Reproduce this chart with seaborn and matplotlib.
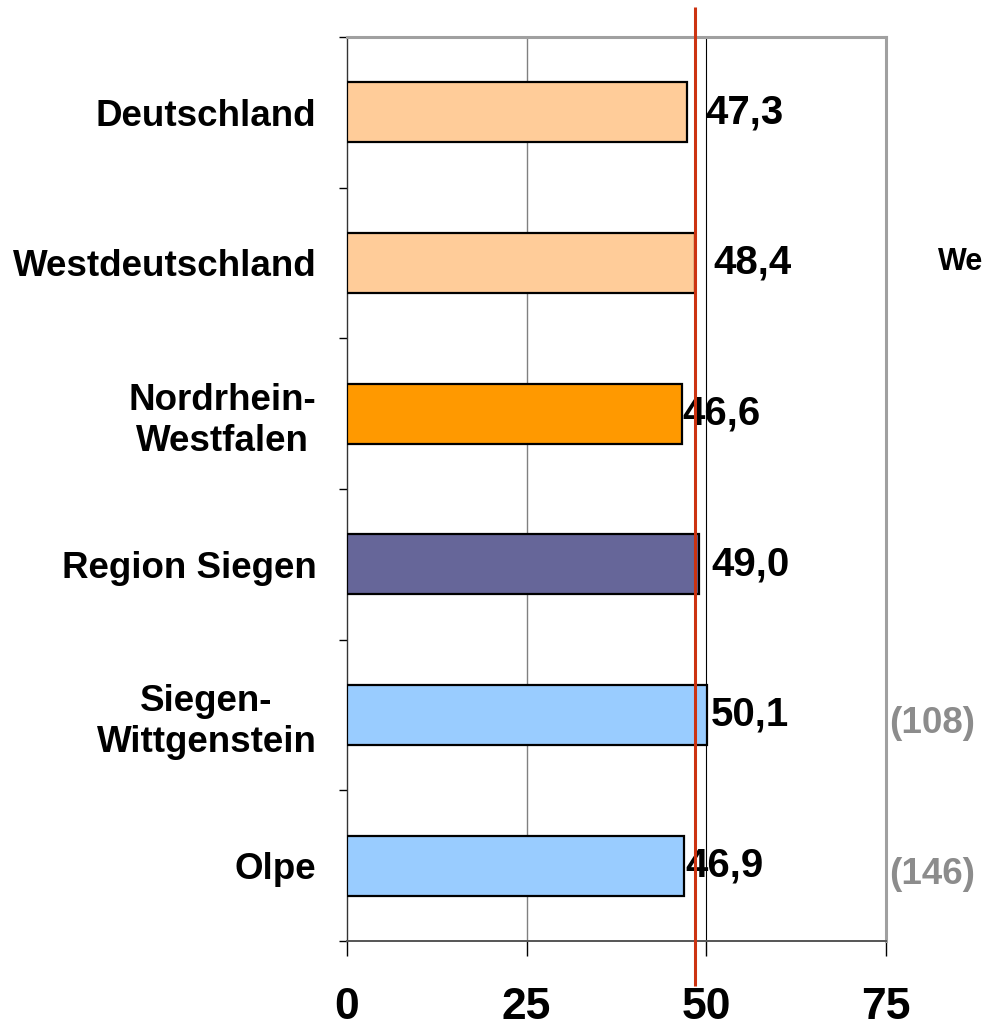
import matplotlib
matplotlib.use("Agg")
import matplotlib.pyplot as plt
import matplotlib.transforms as mtransforms
from matplotlib import font_manager
import seaborn as sns
import pandas as pd

# ---- data ----
categories = ["Deutschland", "Westdeutschland", "Nordrhein-\nWestfalen",
              "Region Siegen", "Siegen-\nWittgenstein", "Olpe"]
values = [47.3, 48.4, 46.6, 49.0, 50.1, 46.9]
value_labels = ["47,3", "48,4", "46,6", "49,0", "50,1", "46,9"]
bar_colors = ["#FFCC99", "#FFCC99", "#FF9900", "#666699", "#99CCFF", "#99CCFF"]
x_ticks = [0, 25, 50, 75]
reference_value = 48.4          # red line (Westdeutschland)
side_notes = ["(108)", "(146)"]  # gray sample sizes
side_note_rows = [4, 5]

# ---- layout/style ----
label_offsets_pt = [13.5, 13, 0.7, 8.5, 3, 0.7]

sns.set_theme(style="white")
names = {f.name for f in font_manager.fontManager.ttflist}
regular = "Liberation Sans" if "Liberation Sans" in names else "DejaVu Sans"
plt.rcParams["font.family"] = [regular, "DejaVu Sans"]
plt.rcParams["text.color"] = "black"
plt.rcParams["xtick.color"] = "black"
plt.rcParams["ytick.color"] = "black"

df = pd.DataFrame({"cat": categories, "val": values})

fig = plt.figure(figsize=(9.88, 10.27), dpi=100)
ax = fig.add_axes([347 / 988, 1 - 941 / 1027, (886 - 347) / 988, (941 - 37) / 1027])

sns.barplot(data=df, x="val", y="cat", hue="cat", palette=bar_colors,
            saturation=1, legend=False, orient="h", width=0.4,
            edgecolor="black", linewidth=1.6, ax=ax, zorder=3)

ax.set_xlim(0, 75)
ax.set_ylim(5.5, -0.5)
ax.set_xlabel("")
ax.set_ylabel("")

# gridlines
ax.axvline(25, color="#808080", lw=1.0, zorder=1)
ax.axvline(50, color="black", lw=0.8, zorder=1)

# spines
for s in ["top", "right"]:
    ax.spines[s].set_visible(True)
    ax.spines[s].set_color("#A0A0A0")
    ax.spines[s].set_linewidth(2.2)
ax.spines["left"].set_color("#333333")
ax.spines["left"].set_linewidth(1.0)
ax.spines["bottom"].set_color("#555555")
ax.spines["bottom"].set_linewidth(1.4)

# x ticks
ax.set_xticks(x_ticks)
ax.set_xticklabels([str(t) for t in x_ticks], fontweight="bold", fontsize=32,
                   color="black")
ax.tick_params(axis="x", direction="out", length=11, width=1.0,
               color="black", pad=22, bottom=True)

# y ticks: labels at centers (no tick mark), marks at boundaries
ax.set_yticks(range(len(categories)))
ax.set_yticklabels(categories, fontsize=26.5, fontweight="bold",
                   multialignment="center", linespacing=1.22, color="black")
ax.tick_params(axis="y", which="major", length=0, pad=22, left=True)
ax.set_yticks([i - 0.5 for i in range(len(categories) + 1)], minor=True)
ax.tick_params(axis="y", which="minor", direction="out", length=6,
               width=1.0, color="black", left=True)

# value labels
for i, (v, lab) in enumerate(zip(values, value_labels)):
    ax.annotate(lab, xy=(v, i), xytext=(label_offsets_pt[i], 0),
                textcoords="offset points", ha="left", va="center",
                fontsize=29, fontweight="bold", color="black", zorder=5)

# red reference line extending beyond axes (x in data, y in figure fraction)
trans = mtransforms.blended_transform_factory(ax.transData, fig.transFigure)
ax.plot([reference_value, reference_value], [1 - 7 / 1027, 1 - 986 / 1027],
        transform=trans, color="#CC3311", lw=2.2, clip_on=False, zorder=6,
        solid_capstyle="butt")

# side notes
for note, row in zip(side_notes, side_note_rows):
    ax.annotate(note, xy=(1, row), xycoords=("axes fraction", "data"),
                xytext=(2.5, -6), textcoords="offset points", ha="left",
                va="center", fontsize=26.5, fontweight="bold", color="#8C8C8C")

fig.text(938 / 988, 1 - 262 / 1027, "We", fontsize=22, fontweight="bold",
         ha="left", va="center", color="black")

fig.savefig("out.png", dpi=100)
